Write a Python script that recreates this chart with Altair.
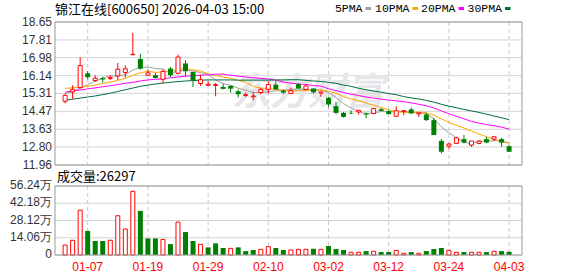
import altair as alt
import pandas as pd

# ---------------- data ----------------
dates = ["12-31",
         "01-05", "01-06", "01-07", "01-08", "01-09",
         "01-12", "01-13", "01-14", "01-15", "01-16",
         "01-19", "01-20", "01-21", "01-22", "01-23",
         "01-26", "01-27", "01-28", "01-29", "01-30",
         "02-02", "02-03", "02-04", "02-05", "02-06",
         "02-09", "02-10", "02-11", "02-12", "02-13",
         "02-24", "02-25", "02-26", "02-27",
         "03-02", "03-03", "03-04", "03-05", "03-06",
         "03-09", "03-10", "03-11", "03-12", "03-13",
         "03-16", "03-17", "03-18", "03-19", "03-20",
         "03-23", "03-24", "03-25", "03-26", "03-27",
         "03-30", "03-31", "04-01", "04-02", "04-03"]

opens = [14.94, 15.38, 15.58, 16.25, 15.91, 16.02, 16.01, 16.13, 16.29, 17.12,
         16.92, 16.16, 16.16, 15.97, 16.47, 16.25, 16.71, 16.31, 15.77, 15.69,
         15.68, 15.61, 15.66, 15.41, 15.21, 15.15, 15.35, 15.50, 15.72, 15.44,
         15.30, 15.74, 15.49, 15.54, 15.33, 15.10, 14.71, 14.40, 14.40, 14.44,
         14.37, 14.37, 14.57, 14.48, 14.24, 14.46, 14.56, 14.35, 14.32, 14.06,
         13.09, 12.84, 12.97, 13.17, 12.89, 12.97, 13.17, 13.17, 13.17, 12.84]
highs = [15.30, 15.69, 17.00, 16.36, 16.16, 16.08, 16.16, 16.73, 16.63, 18.14,
         17.16, 16.43, 16.27, 16.44, 16.55, 17.13, 16.86, 16.32, 16.19, 15.88,
         15.80, 15.77, 15.69, 15.49, 15.35, 15.38, 15.57, 15.89, 15.89, 15.49,
         15.58, 15.80, 15.74, 15.54, 15.38, 15.15, 14.91, 14.44, 14.52, 14.52,
         14.42, 14.60, 14.63, 14.52, 14.71, 14.50, 14.65, 14.40, 14.40, 14.16,
         13.17, 12.99, 13.28, 13.36, 13.08, 13.12, 13.28, 13.28, 13.23, 12.89]
lows = [14.84, 15.04, 15.54, 15.97, 15.85, 15.82, 15.93, 15.93, 16.05, 17.12,
        16.42, 16.16, 16.01, 15.79, 16.07, 16.19, 16.11, 15.61, 15.66, 15.66,
        15.18, 15.50, 15.35, 15.12, 15.15, 14.99, 15.26, 15.30, 15.49, 15.27,
        15.30, 15.54, 15.49, 15.30, 15.15, 14.68, 14.34, 14.18, 14.34, 14.32,
        14.14, 14.34, 14.49, 14.34, 14.24, 14.29, 14.37, 14.21, 14.02, 13.36,
        12.50, 12.73, 12.97, 12.97, 12.81, 12.94, 12.97, 13.09, 12.81, 12.58]
closes = [15.22, 15.50, 16.61, 16.07, 16.02, 15.96, 16.05, 16.44, 16.46, 17.14,
          16.47, 16.27, 16.03, 16.33, 16.16, 17.01, 16.35, 15.93, 15.95, 15.74,
          15.72, 15.52, 15.53, 15.27, 15.25, 15.19, 15.50, 15.72, 15.49, 15.35,
          15.43, 15.54, 15.66, 15.36, 15.38, 14.79, 14.40, 14.21, 14.37, 14.52,
          14.32, 14.60, 14.49, 14.34, 14.50, 14.50, 14.37, 14.40, 14.06, 13.36,
          12.58, 12.94, 13.23, 13.01, 13.08, 13.08, 13.01, 13.28, 13.01, 12.58]

# volume in 万 (10k) shares
volumes = [8.1, 12.0, 36.5, 19.6, 11.4, 11.4, 12.0, 32.0, 21.2, 51.9,
           36.0, 13.5, 13.5, 12.7, 8.9, 26.8, 18.7, 11.4, 8.7, 6.2,
           9.5, 5.7, 5.4, 6.2, 3.2, 4.1, 4.6, 6.8, 5.7, 4.1,
           4.1, 4.6, 4.6, 5.1, 4.6, 7.3, 4.9, 4.1, 2.2, 2.2,
           3.2, 3.0, 2.4, 2.4, 3.8, 1.4, 2.4, 1.4, 3.2, 4.9,
           5.7, 3.8, 2.2, 2.4, 2.2, 2.2, 2.4, 3.0, 3.2, 2.63]
# u = red bar (hollow), d = green bar (filled), as seen in the volume panel
vol_dir = ["u", "u", "u", "d", "d", "d", "u", "u", "u", "u",
           "d", "d", "d", "u", "d", "u", "d", "d", "u", "d",
           "d", "d", "u", "d", "d", "d", "u", "u", "d", "d",
           "u", "u", "u", "d", "u", "d", "d", "d", "u", "u",
           "d", "u", "d", "d", "u", "u", "d", "u", "d", "d",
           "d", "u", "u", "d", "u", "u", "d", "u", "d", "d"]

ma5 = [15.32, 15.38, 15.55, 15.72, 15.88, 16.03, 16.14, 16.11, 16.18, 16.41,
       16.51, 16.55, 16.47, 16.45, 16.25, 16.36, 16.38, 16.36, 16.28, 16.19,
       15.93, 15.77, 15.69, 15.55, 15.46, 15.35, 15.35, 15.39, 15.43, 15.45,
       15.50, 15.51, 15.49, 15.47, 15.48, 15.35, 15.12, 14.83, 14.63, 14.46,
       14.36, 14.40, 14.46, 14.45, 14.45, 14.48, 14.43, 14.41, 14.36, 14.13,
       13.75, 13.47, 13.23, 13.02, 12.97, 13.07, 13.08, 13.09, 13.09, 12.99]
ma10 = [15.55, 15.57, 15.60, 15.64, 15.70, 15.77, 15.84, 15.92, 16.02, 16.15,
        16.27, 16.35, 16.29, 16.32, 16.33, 16.44, 16.47, 16.41, 16.36, 16.22,
        16.15, 16.07, 16.02, 15.92, 15.83, 15.64, 15.56, 15.54, 15.49, 15.46,
        15.43, 15.43, 15.44, 15.45, 15.46, 15.42, 15.31, 15.16, 15.05, 14.97,
        14.86, 14.76, 14.65, 14.54, 14.46, 14.42, 14.42, 14.44, 14.41, 14.29,
        14.12, 13.95, 13.82, 13.69, 13.55, 13.41, 13.28, 13.16, 13.06, 12.98]
ma20 = [15.37, 15.42, 15.47, 15.52, 15.57, 15.62, 15.67, 15.72, 15.78, 15.83,
        15.89, 15.94, 15.97, 16.00, 16.04, 16.08, 16.11, 16.14, 16.16, 16.18,
        16.21, 16.21, 16.16, 16.12, 16.08, 16.04, 16.01, 15.98, 15.93, 15.84,
        15.79, 15.75, 15.73, 15.68, 15.65, 15.53, 15.44, 15.35, 15.27, 15.21,
        15.14, 15.09, 15.04, 15.00, 14.96, 14.92, 14.87, 14.80, 14.73, 14.63,
        14.49, 14.36, 14.24, 14.12, 14.00, 13.92, 13.85, 13.80, 13.73, 13.64]
ma30 = [14.99, 15.04, 15.09, 15.14, 15.19, 15.25, 15.32, 15.40, 15.48, 15.56,
        15.64, 15.70, 15.75, 15.79, 15.83, 15.86, 15.89, 15.91, 15.93, 15.94,
        15.94, 15.94, 15.94, 15.93, 15.93, 15.93, 15.93, 15.93, 15.94, 15.94,
        15.95, 15.95, 15.92, 15.89, 15.87, 15.83, 15.78, 15.70, 15.64, 15.55,
        15.48, 15.42, 15.37, 15.30, 15.25, 15.16, 15.10, 15.05, 14.98, 14.90,
        14.80, 14.71, 14.64, 14.56, 14.49, 14.42, 14.34, 14.25, 14.17, 14.08]

price_ticks = [18.65, 17.81, 16.98, 16.14, 15.31, 14.47, 13.63, 12.80, 11.96]
vol_ticks = [56.24, 42.18, 28.12, 14.06, 0]
vol_tick_labels = ["56.24万", "42.18万", "28.12万", "14.06万", "0"]
date_ticks = ["01-07", "01-19", "01-29", "02-10", "03-02", "03-12", "03-24", "04-03"]
ma_names = ["5PMA", "10PMA", "20PMA", "30PMA"]
title_text = "锦江在线[600650] 2026-04-03 15:00"
vol_label = "成交量:26297"
watermark = "东方财富"

# ---------------- styles ----------------
RED = "#ff0000"
GREEN = "#008000"
MA_COLORS = ["#a0a0a0", "#ffa500", "#ff00ff", "#00703c"]
GRID = "#d4d4d4"
FRAME = "#999999"
LABEL = "#333333"

df = pd.DataFrame({"date": dates, "open": opens, "high": highs, "low": lows,
                   "close": closes, "vol": volumes, "vdir": vol_dir})
df["idx"] = list(range(len(dates)))
df["cdir"] = ["u" if c >= o else "d" for o, c in zip(opens, closes)]

ma_df = pd.concat([
    pd.DataFrame({"idx": list(range(len(vals))), "v": vals, "name": n})
    for n, vals in zip(ma_names, [ma5, ma10, ma20, ma30])
])

X = alt.X("idx:Q", scale=alt.Scale(domain=[-0.68, 60.05], range=[55, 522],
                                   nice=False, zero=False), axis=None)
PS = alt.Scale(domain=[min(price_ticks), max(price_ticks)], range=[165, 22],
               nice=False, zero=False)
VS = alt.Scale(domain=[min(vol_ticks), max(vol_ticks)], range=[255, 186],
               nice=False, zero=False)

base = alt.Chart(df)
one = pd.DataFrame({"a": [0]})

layers = []

# horizontal grid lines
layers.append(alt.Chart(pd.DataFrame({"t": price_ticks})).mark_rule(color=GRID).encode(
    x=alt.value(55), x2=alt.value(522), y=alt.Y("t:Q", scale=PS, axis=None)))
layers.append(alt.Chart(pd.DataFrame({"t": vol_ticks})).mark_rule(color=GRID).encode(
    x=alt.value(55), x2=alt.value(522), y=alt.Y("t:Q", scale=VS, axis=None)))

# vertical dashed date lines
vd = base.transform_filter(alt.FieldOneOfPredicate(field="date", oneOf=date_ticks))
layers.append(vd.mark_rule(color="#c8c8c8", strokeDash=[4, 3]).encode(
    x=X, y=alt.YDatum(max(price_ticks), scale=PS, axis=None),
    y2=alt.Y2Datum(min(price_ticks))))
layers.append(vd.mark_rule(color="#c8c8c8", strokeDash=[4, 3]).encode(
    x=X, y=alt.YDatum(max(vol_ticks), scale=VS, axis=None),
    y2=alt.Y2Datum(min(vol_ticks))))

# watermark
layers.append(alt.Chart(pd.DataFrame({"t": [watermark]})).mark_text(
    font="Noto Sans CJK SC", fontSize=38, fontWeight="bold", fontStyle="italic",
    color="#e6e6ea", align="center", baseline="middle").encode(
    x=alt.value(308), y=alt.value(94), text="t:N"))

# moving averages
layers.append(alt.Chart(ma_df).mark_line(strokeWidth=1).encode(
    x=X, y=alt.Y("v:Q", scale=PS, axis=None),
    color=alt.Color("name:N", scale=alt.Scale(domain=ma_names, range=MA_COLORS), legend=None)))

# candle wicks
layers.append(base.mark_rule(strokeWidth=1).encode(
    x=X, y=alt.Y("low:Q", scale=PS, axis=None), y2="high:Q",
    color=alt.when(alt.datum.cdir == "u").then(alt.value(RED)).otherwise(alt.value(GREEN))))
# candle bodies
layers.append(base.transform_filter(alt.datum.cdir == "u").mark_bar(
    size=4, orient="vertical", fill="white", stroke=RED, strokeWidth=1).encode(
    x=X, y=alt.Y("open:Q", scale=PS, axis=None), y2="close:Q"))
layers.append(base.transform_filter(alt.datum.cdir == "d").mark_bar(
    size=5, orient="vertical", color=GREEN).encode(
    x=X, y=alt.Y("open:Q", scale=PS, axis=None), y2="close:Q"))

# volume bars
layers.append(base.transform_filter(alt.datum.vdir == "u").mark_bar(
    size=4, orient="vertical", fill="white", stroke=RED, strokeWidth=1).encode(
    x=X, y=alt.Y("vol:Q", scale=VS, axis=None), y2=alt.Y2Datum(0)))
layers.append(base.transform_filter(alt.datum.vdir == "d").mark_bar(
    size=5, orient="vertical", color=GREEN).encode(
    x=X, y=alt.Y("vol:Q", scale=VS, axis=None), y2=alt.Y2Datum(0)))

# panel frames
for (y0, y1) in [(22, 165), (186, 255)]:
    layers.append(alt.Chart(one).mark_rect(fillOpacity=0, stroke=FRAME, strokeWidth=1).encode(
        x=alt.value(55), x2=alt.value(522), y=alt.value(y0), y2=alt.value(y1)))

# y tick labels
layers.append(alt.Chart(pd.DataFrame({"t": price_ticks})).mark_text(
    align="right", baseline="middle", font="Liberation Sans", fontSize=12, color=LABEL).encode(
    x=alt.value(52), y=alt.Y("t:Q", scale=PS, axis=None), text=alt.Text("t:Q", format=".2f")))
layers.append(alt.Chart(pd.DataFrame({"t": vol_ticks, "lab": vol_tick_labels})).mark_text(
    align="right", baseline="middle", font="Liberation Sans", fontSize=12, color=LABEL, dy=-1).encode(
    x=alt.value(52), y=alt.Y("t:Q", scale=VS, axis=None), text="lab:N"))

# date labels
layers.append(vd.mark_text(align="center", baseline="middle", font="Liberation Sans",
                           fontSize=12, color=RED).encode(
    x=X, y=alt.value(267), text="date:N"))

# title & volume caption
layers.append(alt.Chart(pd.DataFrame({"t": [title_text]})).mark_text(
    align="left", baseline="middle", font="Noto Sans CJK SC", fontSize=13, color="#000").encode(
    x=alt.value(55), y=alt.value(9.5), text="t:N"))
layers.append(alt.Chart(pd.DataFrame({"t": [vol_label]})).mark_text(
    align="left", baseline="middle", font="Noto Sans CJK SC", fontSize=13, color="#000").encode(
    x=alt.value(57), y=alt.value(177), text="t:N"))

# MA legend (label then colour swatch)
leg_right = [362.5, 409.5, 455.5, 502]
for name, col, xr in zip(ma_names, MA_COLORS, leg_right):
    layers.append(alt.Chart(pd.DataFrame({"t": [name]})).mark_text(
        align="right", baseline="middle", font="Liberation Mono", fontSize=11.5, color="#000").encode(
        x=alt.value(xr), y=alt.value(9), text="t:N"))
    layers.append(alt.Chart(one).mark_rect(color=col).encode(
        x=alt.value(xr + 3), x2=alt.value(xr + 8.5), y=alt.value(7), y2=alt.value(10)))

chart = alt.layer(*layers).resolve_scale(y="independent").properties(
    width=578, height=276, autosize=alt.AutoSizeParams(type="none"), padding=0,
    background="white"
).configure_view(stroke=None)

chart.save("out.html", embed_options={"renderer": "svg", "actions": False})
